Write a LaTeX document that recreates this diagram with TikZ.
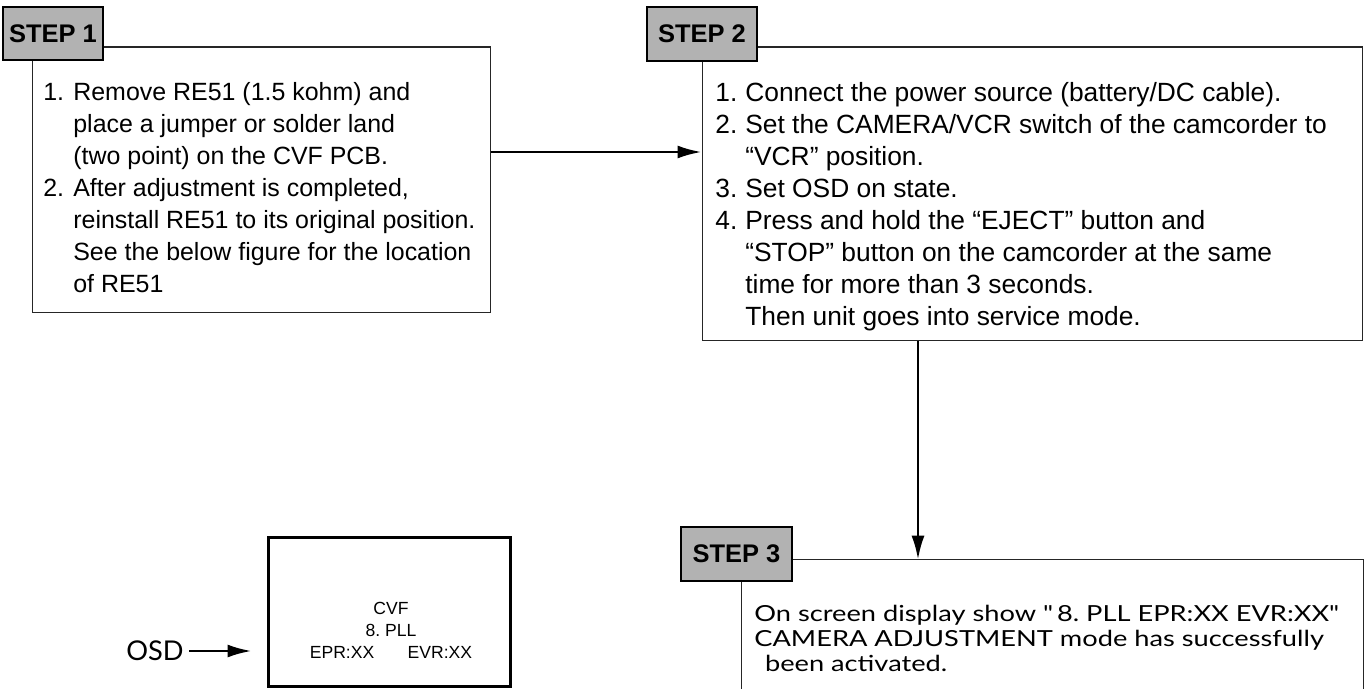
\documentclass[tikz,border=0pt]{standalone}
\usepackage{fontspec}
\setmainfont{Liberation Sans}
\newfontfamily\osdfont{Lato}
\newfontfamily\widefont[FakeStretch=1.23]{Lato}
\usetikzlibrary{arrows.meta,positioning}

\newcommand{\ind}{\hspace*{0.6cm}}
\newcommand{\itm}[1]{\makebox[0.6cm][l]{#1}}
\frenchspacing

\begin{document}
\begin{tikzpicture}[x=0.02cm, y=-0.02cm,
    stepbox/.style={draw=black!85, line width=0.6pt, inner sep=0pt},
    steptag/.style={draw, fill=black!30, line width=1.3pt, inner sep=0pt,
        minimum height=1.07cm, font=\bfseries\fontsize{14.5}{16}\selectfont},
    steptext/.style={align=left, inner sep=0pt, anchor=north west},
    flow/.style={line width=1.5pt, -{Latex[length=0.48cm, width=0.26cm]}}]
    \useasboundingbox (0,0) rectangle (1367,689);

    % Step boxes
    \node[stepbox, minimum width=9.18cm, minimum height=5.32cm] (s1) at (261.5,180) {};
    \node[stepbox, minimum width=13.22cm, minimum height=5.88cm] (s2) at (1032.5,194) {};
    \node[inner sep=0pt, minimum width=12.42cm, minimum height=2.58cm] (s3) at (1052.5,624.5) {};
    \draw[stepbox] (s3.south west) -- (s3.north west) -- (s3.north east) -- (s3.south east);

    % Step tags
    \foreach \n/\x/\y/\w in {1/53/33.5/2.0, 2/702/34/2.2, 3/736.5/554/2.22} {
        \node[steptag, minimum width=\w cm] (t\n) at (\x,\y) {STEP \n};
    }

    % Step texts
    \node[steptext, font=\fontsize{14.2}{18.2}\selectfont] (x1) at (43,82) {%
        \itm{1.}Remove RE51 (1.5 kohm) and\\
        \ind place a jumper or solder land\\
        \ind (two point) on the CVF PCB.\\
        \itm{2.}After adjustment is completed,\\
        \ind reinstall RE51 to its original position.\\
        \ind See the below figure for the location\\
        \ind of RE51};
    \node[steptext, font=\fontsize{15}{18.2}\selectfont] (x2) at (715,82) {%
        \itm{1.}Connect the power source (battery/DC cable).\\
        \itm{2.}Set the CAMERA/VCR switch of the camcorder to\\
        \ind ``VCR'' position.\\
        \itm{3.}Set OSD on state.\\
        \itm{4.}Press and hold the ``EJECT'' button and\\
        \ind ``STOP'' button on the camcorder at the same\\
        \ind time for more than 3 seconds.\\
        \ind Then unit goes into service mode.};
    \node[steptext, font=\widefont\fontsize{12.6}{14.2}\selectfont] (x3) at (754,605) {%
        On screen display show "\,8. PLL EPR:XX EVR:XX"\\
        CAMERA ADJUSTMENT mode has successfully\\
        \ \,been activated.};

    % OSD display
    \node[draw, line width=1.7pt, minimum width=4.86cm, minimum height=3cm] (disp) at (389.5,612) {};
    \node[align=center, inner sep=0pt, font=\fontsize{10}{12.5}\selectfont] (dtext) at (391,630) {%
        CVF\\ 8. PLL\\ EPR:XX\hspace{1.9em}EVR:XX};
    \node[font=\osdfont\fontsize{15.5}{18}\selectfont, inner sep=3pt] (osd) at (155,651) {OSD};

    % Arrows
    \coordinate (j1) at (0,152);
    \coordinate (j2) at (918,0);
    \draw[flow] (s1.east |- j1) -- (s2.west |- j1);
    \draw[flow] (s2.south -| j2) -- (s3.north -| j2);
    \draw[flow, shorten >=0.3cm] (osd.east) -- (osd.east -| disp.west);

\end{tikzpicture}
\end{document}
